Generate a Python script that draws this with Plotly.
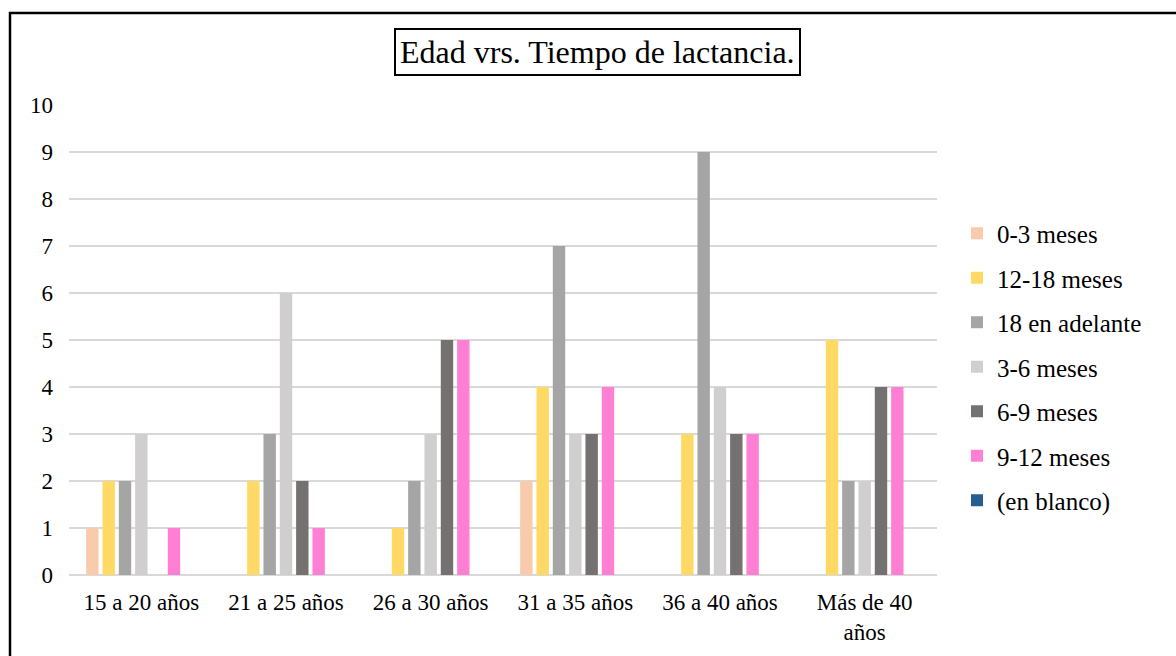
import plotly.graph_objects as go

categorias = ["15 a 20 años", "21 a 25 años", "26 a 30 años", "31 a 35 años", "36 a 40 años", "Más de 40<br>años"]

series = ["0-3 meses", "12-18 meses", "18 en adelante", "3-6 meses", "6-9 meses", "9-12 meses", "(en blanco)"]

v_0_3 = [1, 0, 0, 2, 0, 0]
v_12_18 = [2, 2, 1, 4, 3, 5]
v_18_mas = [2, 3, 2, 7, 9, 2]
v_3_6 = [3, 6, 3, 3, 4, 2]
v_6_9 = [0, 2, 5, 3, 3, 4]
v_9_12 = [1, 1, 5, 4, 3, 4]
v_blanco = [0, 0, 0, 0, 0, 0]

valores = [v_0_3, v_12_18, v_18_mas, v_3_6, v_6_9, v_9_12, v_blanco]
colores = ["#F8CBAD", "#FFD966", "#A5A5A5", "#D0CECE", "#767171", "#FF7FD5", "#255E91"]

SERIF = "Liberation Serif, Times New Roman, serif"

fig = go.Figure()
for nombre, vals, color in zip(series, valores, colores):
    fig.add_trace(go.Bar(
        x=categorias, y=vals, name=nombre, legendgroup=nombre,
        marker=dict(color=color, line=dict(width=0)),
    ))

W, H = 1176, 656
ml, mr, mt, mb = 69, 239, 105, 81
pw, ph = W - ml - mr, H - mt - mb


def px_x(p):
    return (p - ml) / pw


def px_y(p):
    return (H - mb - p) / ph


fig.update_layout(
    width=W, height=H,
    margin=dict(l=ml, r=mr, t=mt, b=mb),
    paper_bgcolor="white", plot_bgcolor="white",
    font=dict(family=SERIF, size=23, color="#000000"),
    barmode="group", bargap=0.21, bargroupgap=0.24,
    showlegend=True,
    legend=dict(
        x=px_x(957), xanchor="left",
        y=px_y(367), yanchor="middle",
        font=dict(family=SERIF, size=25), tracegroupgap=9,
        itemwidth=30, bgcolor="rgba(0,0,0,0)",
    ),
    xaxis=dict(showline=False, ticks="", tickfont=dict(family=SERIF, size=23), showgrid=False,
               ticklabelstandoff=11),
    yaxis=dict(
        range=[0, 10], dtick=1, showgrid=True, gridcolor="#D9D9D9", gridwidth=1.5,
        zeroline=True, zerolinecolor="#D9D9D9", zerolinewidth=1.5,
        showline=False, ticks="", tickfont=dict(family=SERIF, size=23), ticklabelstandoff=15,
    ),
)

# Title in a framed box
fig.add_annotation(
    text="Edad vrs. Tiempo de lactancia.",
    xref="paper", yref="paper",
    x=px_x(597), y=px_y(52),
    xanchor="center", yanchor="middle",
    showarrow=False, font=dict(family=SERIF, size=32),
    bordercolor="#000000", borderwidth=2, borderpad=4, bgcolor="white",
)

# Outer frame of the chart (right and bottom edges run past the page)
fig.add_shape(
    type="rect", xref="paper", yref="paper",
    x0=px_x(10), x1=px_x(W + 20),
    y0=px_y(H + 20), y1=px_y(13),
    line=dict(color="#000000", width=2.5), fillcolor="rgba(0,0,0,0)", layer="below",
)

fig.write_html("out.html")
